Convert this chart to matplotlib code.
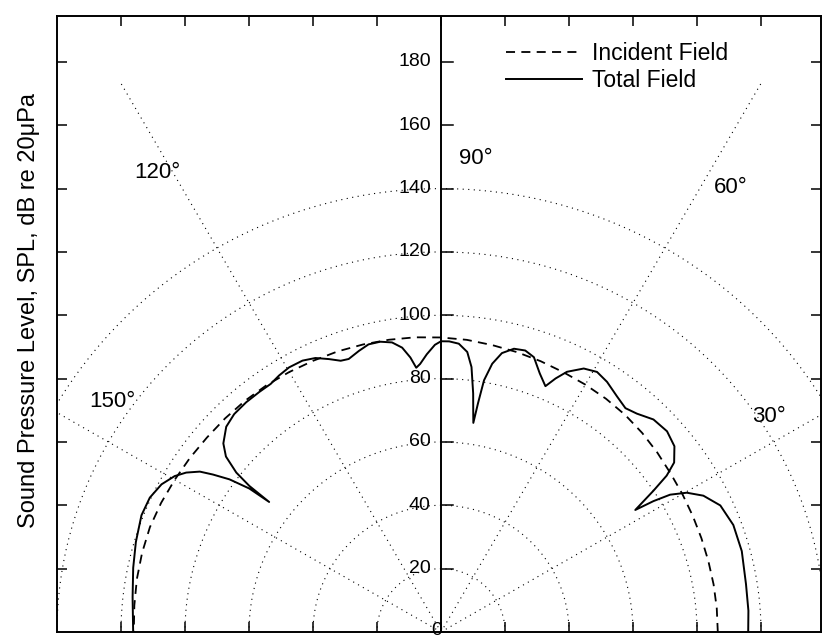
import numpy as np
import matplotlib.pyplot as plt

plt.rcParams['font.family'] = ['Liberation Sans', 'DejaVu Sans']

# incident field (dashed), angle in degrees, SPL in dB
incident_deg = [0, 5, 10, 15, 20, 25, 30, 35, 40, 45, 50, 55, 60, 65, 70, 75, 80, 85, 90,
                95, 100, 105, 110, 115, 120, 125, 130, 135, 140, 145, 150, 155, 160, 165,
                170, 175, 180]
incident_spl = [86.5, 86.5, 86.5, 86.5, 86.6, 86.8, 87.1, 87.5, 88.2, 88.9, 89.5, 89.9, 90.2,
                90.5, 91.0, 91.5, 92.0, 92.6, 93.0, 93.4, 93.7, 94.0, 94.3, 94.5, 94.8, 95.1,
                95.3, 95.4, 95.5, 95.8, 96.1, 96.5, 96.8, 96.7, 96.5, 96.2, 96.0]

# total field (solid)
total_deg = [0, 4, 9, 15.2, 20.3, 24.6, 27.7, 29.8, 31.2, 31.9, 32.4, 33.9, 35.0, 36.3, 38.8,
             41.9, 45.3, 48.4, 50.8, 53.5, 56.7, 59.3, 61.8, 64.4, 65.9, 67.2, 69.3, 71.5,
             73.5, 75.7, 77.8, 79.3, 80.4, 80.9, 81.3, 81.8, 82.4, 83.5, 84.7, 86.5, 88.4,
             90.0, 91.2, 92.9, 94.4, 95.3, 96.3, 97.7, 99.5, 101.7, 104.0, 106.1, 108.5,
             110.1, 112.1, 114.4, 116.8, 119.6, 122.0, 124.2, 126.8, 130.0, 133.2, 136.0,
             138.8, 140.5, 141.8, 142.4, 142.6, 142.9, 143.9, 145.1, 146.1, 147.7, 149.4,
             151.9, 155.0, 158.5, 163.4, 168.1, 173.5, 180]
total_spl = [96.0, 96.3, 96.5, 97.4, 97.4, 96.0, 92.6, 88.5, 83.7, 78.2, 71.9, 80.0, 86.1, 90.4,
             93.6, 94.9, 94.4, 92.2, 91.2, 92.5, 94.5, 95.5, 94.4, 91.1, 87.7, 84.2, 87.3,
             91.5, 92.7, 92.3, 90.1, 86.2, 80.6, 73.2, 66.8, 70.6, 76.0, 84.2, 88.8, 91.2,
             91.8, 91.8, 90.7, 87.8, 84.9, 83.8, 87.2, 90.6, 92.7, 93.6, 93.6, 92.4, 90.9,
             91.2, 93.0, 95.0, 96.0, 96.1, 95.5, 94.7, 94.7, 94.7, 94.4, 93.3, 90.4, 87.1,
             81.4, 75.6, 67.6, 75.1, 81.8, 86.9, 90.8, 94.2, 96.7, 99.0, 100.4, 100.6, 99.5,
             98.3, 97.0, 96.2]

spl_ticks = [20, 40, 60, 80, 100, 120, 140, 160, 180]
ring_levels = [20, 40, 60, 80, 100, 120, 140]
spoke_deg = [30, 60, 120, 150]
angle_text = ['30°', '60°', '90°', '120°', '150°']
angle_text_deg = [33.6, 57.2, 85.8, 121.4, 144.7]
angle_text_r = [123, 167, 150, 170, 126]


def to_xy(deg, r):
    t = np.deg2rad(np.asarray(deg, dtype=float))
    r = np.asarray(r, dtype=float)
    return r * np.cos(t), r * np.sin(t)


fig = plt.figure(figsize=(8.22, 6.39), dpi=100)
ax = fig.add_axes([57 / 822, 7 / 639, 764 / 822, 616 / 639])
ax.set_xlim(-120, 118.75)
ax.set_ylim(0, 194.5)

dot = (0, (1, 4))
theta = np.linspace(0, 180, 361)
for r in ring_levels:
    x, y = to_xy(theta, np.full_like(theta, r))
    ax.plot(x, y, color='black', lw=0.8, ls=dot)
for d in spoke_deg:
    x, y = to_xy([d, d], [0, 200])
    ax.plot(x, y, color='black', lw=0.8, ls=dot)

# center (90 deg) axis with its own ticks and labels
ax.axvline(0, color='black', lw=1.4)
for v in spl_ticks:
    ax.plot([0, 3.8], [v, v], color='black', lw=1.1)
    ax.text(-3.2, v, str(v), ha='right', va='center', fontsize=14)
ax.text(-1.2, 0.6, '0', ha='center', va='center', fontsize=14, clip_on=False)

xi, yi = to_xy(incident_deg, incident_spl)
ax.plot(xi, yi, color='black', lw=1.3, dashes=(5, 3.5), label='Incident Field')
xt, yt = to_xy(total_deg, total_spl)
ax.plot(xt, yt, color='black', lw=1.4, label='Total Field')

for s, d, r in zip(angle_text, angle_text_deg, angle_text_r):
    x, y = to_xy(d, r)
    ax.text(x, y, s, ha='center', va='center', fontsize=16)

ax.set_xticks(range(-100, 101, 20))
ax.set_yticks(spl_ticks)
ax.tick_params(direction='in', length=7, width=1.1, top=True, right=True,
               labelbottom=False, labelleft=False)
for sp in ax.spines.values():
    sp.set_linewidth(1.4)

ax.legend(loc='upper left', bbox_to_anchor=(0.588, 0.958), frameon=False, fontsize=16.5,
          handlelength=3.3, handletextpad=0.45, labelspacing=0.2, borderpad=0,
          borderaxespad=0)

fig.text(29 / 822, 1 - 310 / 639, 'Sound Pressure Level, SPL, dB re 20μPa', rotation=90,
         ha='center', va='center', fontsize=17)

fig.savefig('out.png', dpi=100)
